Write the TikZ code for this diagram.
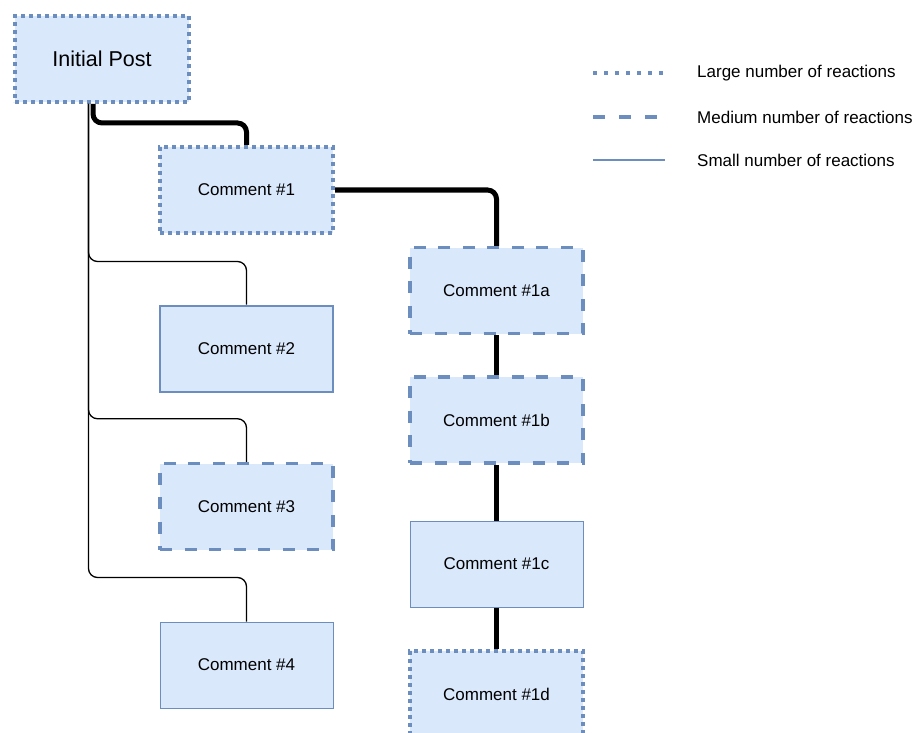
\documentclass[tikz,border=0pt]{standalone}
\usepackage{fontspec}
\setmainfont{Liberation Sans}
\definecolor{boxfill}{HTML}{DAE8FC}
\definecolor{boxdraw}{HTML}{6C8EBF}
\begin{document}
\begin{tikzpicture}[x=1pt,y=-1pt,
  box/.style={rectangle, fill=boxfill, draw=boxdraw, minimum width=173pt, minimum height=86pt, inner sep=0pt, font=\fontsize{17}{20}\selectfont},
  large/.style={box, line width=4pt, dash pattern=on 4pt off 4pt},
  medium/.style={box, line width=3.5pt, dash pattern=on 12pt off 12.5pt},
  smallb/.style={box, line width=1pt},
  smallm/.style={box, line width=2pt},
  heavy/.style={line width=5pt, rounded corners=9pt},
  light/.style={line width=1.3pt, rounded corners=9pt},
  legtext/.style={anchor=west, inner sep=0pt, font=\fontsize{17}{20}\selectfont}]
\useasboundingbox (0,0) rectangle (916,733);
\node[large, minimum width=174pt, font=\fontsize{21.5}{25}\selectfont] (ip) at (102,59) {Initial Post};
\node[large]  (c1)  at (246.5,190)   {Comment \#1};
\node[smallm] (c2)  at (246.5,348.5) {Comment \#2};
\node[medium] (c3)  at (246.5,506.5) {Comment \#3};
\node[smallb] (c4)  at (246.5,665)   {Comment \#4};
\node[medium] (c1a) at (496.5,290.5) {Comment \#1a};
\node[medium] (c1b) at (496.5,420)   {Comment \#1b};
\node[smallb] (c1c) at (496.5,564)   {Comment \#1c};
\node[large]  (c1d) at (496.5,694)   {Comment \#1d};
% connectors
\draw[light] ([xshift=-13.5pt]ip.south) |- ([yshift=43pt]c2.north) -- (c2.north);
\draw[light] ([xshift=-13.5pt]ip.south) |- ([yshift=43pt]c3.north) -- (c3.north);
\draw[light] ([xshift=-13.5pt]ip.south) |- ([yshift=44pt]c4.north) -- (c4.north);
\draw[heavy] ([xshift=-9pt]ip.south) |- ([yshift=22pt]c1.north) -- (c1.north);
\draw[heavy] (c1.east) -| (c1a.north);
\draw[line width=5pt] (c1a.south) -- (c1b.north);
\draw[line width=5pt] (c1b.south) -- (c1c.north);
\draw[line width=5pt] (c1c.south) -- (c1d.north);
% legend
\coordinate (l1a) at (593,73);  \coordinate (l1b) at (665,73);
\coordinate (l2a) at (593,117); \coordinate (l2b) at (665,117);
\coordinate (l3a) at (593,160); \coordinate (l3b) at (665,160);
\draw[boxdraw, line width=4pt, dash pattern=on 4pt off 7pt] (l1a) -- (l1b);
\draw[boxdraw, line width=4pt, dash pattern=on 12pt off 14pt] (l2a) -- (l2b);
\draw[boxdraw, line width=2pt] (l3a) -- (l3b);
\node[legtext] (t1) at (697,73)  {Large number of reactions};
\node[legtext] (t2) at (697,117) {Medium number of reactions};
\node[legtext] (t3) at (697,160) {Small number of reactions};
\end{tikzpicture}
\end{document}
